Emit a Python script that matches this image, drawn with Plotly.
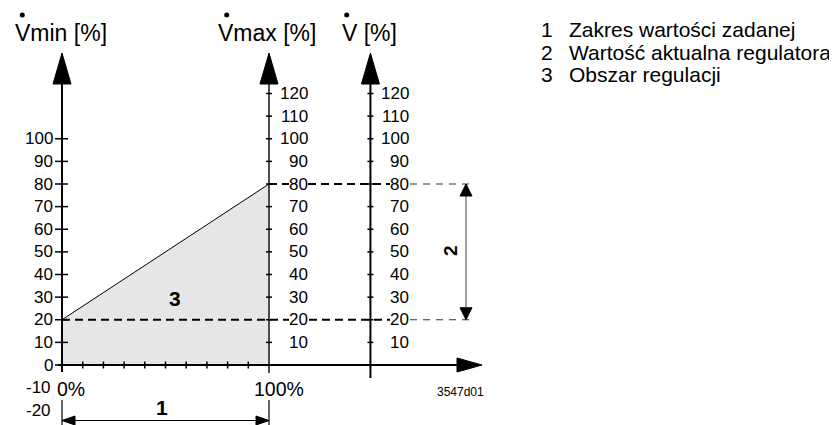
import plotly.graph_objects as go

# ---------------- data ----------------
setpoint_range = [0, 100]          # setpoint range in % (x)
vmin_value = 20                    # Vmin [%]
vmax_value = 80                    # Vmax [%]
vmin_ticks = list(range(0, 101, 10))
vmin_extra_labels = [-10, -20]
vmax_ticks = list(range(10, 121, 10))
v_ticks = list(range(10, 121, 10))
x_minor_ticks = list(range(10, 100, 10))
x_tick_labels = ["0%", "100%"]
v_axis_pos = 149                   # position of the V axis on x scale
titles = ["Vmin [%]", "Vmax [%]", "V [%]"]
legend_numbers = ["1", "2", "3"]
legend_texts = ["Zakres wartości zadanej", "Wartość aktualna regulatora", "Obszar regulacji"]
drawing_code = "3547d01"

# ---------------- geometry helpers (reference pixel -> data) ----------------
PAGE_W, PAGE_H = 837, 425
BODY_MARGIN = 8                    # default page margin around the plot div
W, H = PAGE_W - BODY_MARGIN, PAGE_H - BODY_MARGIN
X0PX, SX = 62.0, 2.07
Y0PX, SY = 365.0, 2.2625


def px_x(p):
    return (p - X0PX) / SX


def px_y(p):
    return (Y0PX - p) / SY


def dx(p):
    return p / SX


def dy(p):
    return p / SY


FONT = "Liberation Sans, Arial, Helvetica, sans-serif"
BLACK = "#000000"

fig = go.Figure()

# control area (3)
x0, x1 = setpoint_range
fig.add_trace(go.Scatter(
    x=[x0, x0, x1, x1, x0], y=[0, vmin_value, vmax_value, 0, 0],
    mode="lines", fill="toself", fillcolor="#e6e6e6",
    line=dict(width=0, color="rgba(0,0,0,0)"), hoverinfo="skip", showlegend=False))
fig.add_trace(go.Scatter(
    x=[x0, x1], y=[vmin_value, vmax_value], mode="lines",
    line=dict(color=BLACK, width=1), hoverinfo="skip", showlegend=False))

# dashed lines at Vmin and Vmax
x_dash_end = px_x(470)
x_thin_start = px_x(410)
fig.add_trace(go.Scatter(
    x=[x0, x_thin_start, None, x1, x_thin_start], y=[vmin_value, vmin_value, None, vmax_value, vmax_value],
    mode="lines", line=dict(color=BLACK, width=2, dash="8px,5px"),
    hoverinfo="skip", showlegend=False))
fig.add_trace(go.Scatter(
    x=[x_thin_start, x_dash_end, None, x_thin_start, x_dash_end], y=[vmin_value, vmin_value, None, vmax_value, vmax_value],
    mode="lines", line=dict(color="#333333", width=1.2, dash="7px,6px"),
    hoverinfo="skip", showlegend=False))

# vertical axes
arrow_tip_y = px_y(53)
arrow_base_y = px_y(84)
fig.add_trace(go.Scatter(
    x=[x0, x0, None, v_axis_pos, v_axis_pos], y=[px_y(372), arrow_base_y, None, px_y(378), arrow_base_y],
    mode="lines", line=dict(color=BLACK, width=2), hoverinfo="skip", showlegend=False))
fig.add_trace(go.Scatter(
    x=[x1, x1], y=[px_y(373), arrow_base_y],
    mode="lines", line=dict(color="#222222", width=1.6), hoverinfo="skip", showlegend=False))

# horizontal axis
x_arrow_tip = px_x(482)
x_arrow_base = px_x(457)
fig.add_trace(go.Scatter(
    x=[px_x(58), x_arrow_base], y=[0, 0], mode="lines",
    line=dict(color=BLACK, width=2), hoverinfo="skip", showlegend=False))

# ticks
tx, ty = [], []
for v in vmin_ticks:
    tx += [x0 - dx(7), x0 + dx(6), None]
    ty += [v, v, None]
for v in vmax_ticks:
    tx += [x1 - dx(3), x1 + dx(3), None]
    ty += [v, v, None]
for v in v_ticks:
    tx += [v_axis_pos - dx(3), v_axis_pos + dx(3), None]
    ty += [v, v, None]
for v in x_minor_ticks:
    tx += [v, v, None]
    ty += [dy(3.5), -dy(3.5), None]
fig.add_trace(go.Scatter(x=tx, y=ty, mode="lines", line=dict(color=BLACK, width=1.5),
                         hoverinfo="skip", showlegend=False))

# dimension lines
dim2_x = px_x(466)
dim1_y = px_y(420.5)
fig.add_trace(go.Scatter(
    x=[dim2_x, dim2_x], y=[vmax_value, vmin_value], mode="lines",
    line=dict(color="#808080", width=1.5), hoverinfo="skip", showlegend=False))
fig.add_trace(go.Scatter(
    x=[x0, x1, None, x0, x0, None, x1, x1], y=[dim1_y, dim1_y, None, px_y(400), px_y(425), None, px_y(400), px_y(425)],
    mode="lines", line=dict(color=BLACK, width=1.2), hoverinfo="skip", showlegend=False))

# arrowheads (filled triangles)
ax, ay = [], []


def tri(pts):
    for p in pts + [pts[0]]:
        ax.append(p[0])
        ay.append(p[1])
    ax.append(None)
    ay.append(None)


for xa in [x0, x1, v_axis_pos]:
    tri([(xa, arrow_tip_y), (xa - dx(9), arrow_base_y), (xa + dx(9), arrow_base_y)])
tri([(x_arrow_tip, 0), (x_arrow_base, dy(7)), (x_arrow_base, -dy(7))])
tri([(dim2_x, vmax_value), (dim2_x - dx(6), vmax_value - dy(12)), (dim2_x + dx(6), vmax_value - dy(12))])
tri([(dim2_x, vmin_value), (dim2_x - dx(6), vmin_value + dy(12)), (dim2_x + dx(6), vmin_value + dy(12))])
tri([(x0, dim1_y), (x0 + dx(13), dim1_y + dy(4.5)), (x0 + dx(13), dim1_y - dy(4.5))])
tri([(x1, dim1_y), (x1 - dx(13), dim1_y + dy(4.5)), (x1 - dx(13), dim1_y - dy(4.5))])
fig.add_trace(go.Scatter(x=ax, y=ay, mode="lines", fill="toself", fillcolor=BLACK,
                         line=dict(color=BLACK, width=1), hoverinfo="skip", showlegend=False))

# dots above V in titles
title_left_px = [15, 218, 342]
dot_px = [22.3, 226.7, 346.7]
fig.add_trace(go.Scatter(x=[px_x(p) for p in dot_px], y=[px_y(15)] * 3, mode="markers",
                         marker=dict(color=BLACK, size=5), hoverinfo="skip", showlegend=False))

# ---------------- annotations ----------------
ann = []


def add_text(x, y, text, size, xanchor="center", bold=False, bg=None, angle=0, color=BLACK):
    d = dict(x=x, y=y, xref="x", yref="y", text=("<b>%s</b>" % text) if bold else text,
             showarrow=False, xanchor=xanchor, yanchor="middle", textangle=angle,
             font=dict(family=FONT, size=size, color=color), borderpad=0, borderwidth=0)
    if bg:
        d["bgcolor"] = bg
    ann.append(d)


for v in vmin_ticks + vmin_extra_labels:
    add_text(px_x(52.5 if v >= 0 else 51), v, str(v), 17, xanchor="right")
for v in vmax_ticks:
    add_text(px_x(307.5), v, str(v), 17, xanchor="right", bg="white")
for v in v_ticks:
    add_text(px_x(408.5), v, str(v), 17, xanchor="right", bg="white")

add_text(px_x(71), px_y(388.5), x_tick_labels[0], 19.5)
add_text(px_x(279), px_y(388.5), x_tick_labels[1], 19.5)

for t, lp in zip(titles, title_left_px):
    add_text(px_x(lp), px_y(33), t, 23, xanchor="left")

add_text(px_x(162), px_y(407.5), legend_numbers[0], 21, bold=True)
add_text(px_x(450), px_y(251), legend_numbers[1], 19, bold=True, angle=-90)
add_text(px_x(175), px_y(298), legend_numbers[2], 21, bold=True)

add_text(px_x(460.5), px_y(392), drawing_code, 12)

for i, (n, t) in enumerate(zip(legend_numbers, legend_texts)):
    yc = px_y(29.5 + 22.5 * i)
    add_text(px_x(541), yc, n, 21, xanchor="left")
    add_text(px_x(569), yc, t, 21, xanchor="left")

fig.update_layout(
    width=W, height=H, margin=dict(l=0, r=0, t=0, b=0),
    paper_bgcolor="white", plot_bgcolor="white",
    xaxis=dict(range=[px_x(BODY_MARGIN), px_x(PAGE_W)], visible=False, fixedrange=True),
    yaxis=dict(range=[px_y(PAGE_H), px_y(BODY_MARGIN)], visible=False, fixedrange=True),
    annotations=ann, showlegend=False,
)

fig.write_html("out.html")
